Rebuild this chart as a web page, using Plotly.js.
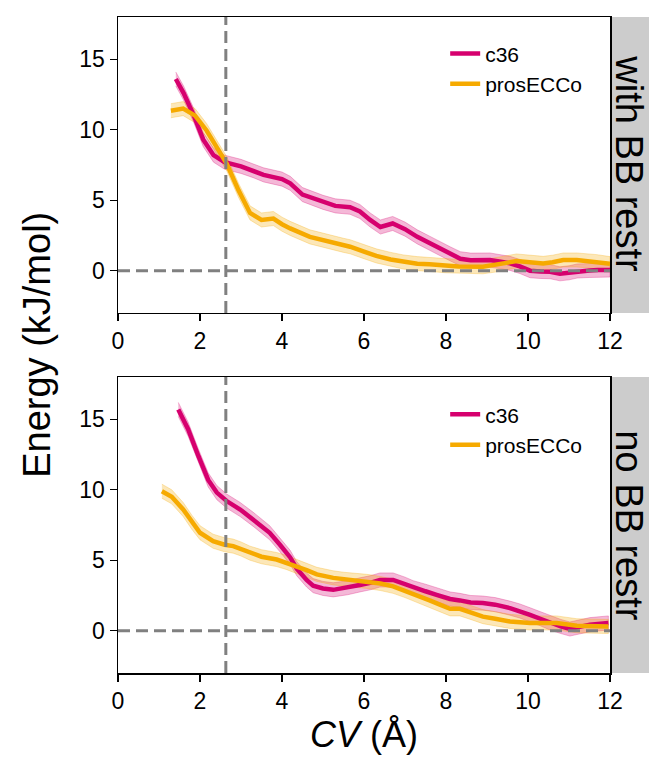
<!DOCTYPE html>
<html>
<head>
<meta charset="utf-8">
<script src="https://cdn.plot.ly/plotly-3.0.1.min.js"></script>
<style>html,body{margin:0;padding:0;background:#fff;}#chart{width:649px;height:764px;}</style>
</head>
<body>
<div id="chart"></div>
<script>
// ---- data ----
const seriesNames = ["c36", "prosECCo"];
const panelLabels = ["with BB restr", "no BB restr"];
const xTickVals = [0, 2, 4, 6, 8, 10, 12];
const yTickVals = [0, 5, 10, 15];
const refLineX = 2.63;
const refLineY = 0;

// top panel: with BB restraint
const topC36X = [1.41,1.6,1.85,2.08,2.33,2.6,3.0,3.3,3.55,4.0,4.2,4.5,5.0,5.3,5.66,5.9,6.15,6.4,6.7,7.0,7.3,7.6,7.85,8.1,8.35,8.6,9.07,9.3,9.56,9.8,10.05,10.3,10.54,10.78,11.0,11.2,11.5,11.7,12.0];
const topC36Y = [13.6,12.6,11.0,9.3,8.2,7.7,7.4,7.1,6.8,6.5,6.2,5.4,4.85,4.6,4.5,4.2,3.6,3.1,3.35,2.95,2.4,1.95,1.55,1.2,0.85,0.75,0.76,0.65,0.52,0.3,0.0,-0.05,-0.07,-0.22,-0.15,-0.02,0.02,0.05,0.05];
const topProsX = [1.29,1.59,1.88,2.16,2.41,2.65,2.94,3.22,3.5,3.79,4.0,4.2,4.68,5.0,5.5,5.66,6.0,6.3,6.65,6.96,7.3,7.6,8.0,8.3,8.9,9.2,9.4,9.72,10.0,10.37,10.6,10.86,11.19,11.68,12.0];
const topProsY = [11.35,11.5,11.0,9.95,8.75,7.6,5.7,4.1,3.6,3.7,3.3,3.0,2.4,2.15,1.8,1.7,1.35,1.05,0.8,0.62,0.5,0.45,0.35,0.3,0.28,0.4,0.52,0.69,0.6,0.52,0.6,0.76,0.76,0.64,0.5];

// bottom panel: no BB restraint
const botC36X = [1.47,1.71,1.96,2.2,2.41,2.65,2.98,3.3,3.7,3.95,4.2,4.36,4.6,4.76,5.0,5.25,5.6,5.9,6.15,6.39,6.71,7.0,7.2,7.5,7.77,8.1,8.34,8.6,8.9,9.2,9.56,9.8,10.05,10.3,10.54,10.8,11.02,11.3,11.51,11.96];
const botC36Y = [15.7,14.3,12.4,10.7,9.8,9.2,8.6,7.9,6.95,6.1,5.2,4.4,3.6,3.2,3.0,2.9,3.05,3.25,3.4,3.6,3.6,3.3,3.05,2.8,2.55,2.25,2.15,2.0,1.96,1.85,1.6,1.4,1.13,0.85,0.55,0.3,0.12,0.3,0.43,0.55];
const botProsX = [1.07,1.31,1.59,1.8,2.0,2.32,2.6,2.81,3.0,3.22,3.5,3.87,4.1,4.36,4.6,4.85,5.25,5.5,6.07,6.4,6.71,7.0,7.37,7.6,7.85,8.1,8.34,8.6,8.9,9.2,9.56,10.05,10.7,11.19,11.68,11.96];
const botProsY = [9.9,9.5,8.6,7.7,6.95,6.35,6.1,6.0,5.8,5.5,5.25,5.05,4.85,4.55,4.3,4.0,3.75,3.65,3.5,3.35,3.15,2.85,2.45,2.15,1.85,1.55,1.55,1.3,1.0,0.85,0.66,0.55,0.55,0.35,0.3,0.3];

// uncertainty half-widths (kJ/mol)
const bandTopC36 = 0.5, bandTopPros = 0.5, bandBotC36 = 0.5, bandBotPros = 0.5;

// ---- styling ----
const colC36 = "rgb(214,0,110)";
const colPros = "rgb(246,170,0)";
const fillC36 = "rgba(214,0,110,0.28)";
const fillPros = "rgba(246,170,0,0.28)";
const FONT = "Liberation Sans, Arial, sans-serif";

function band(x, y, h, fill, xa, ya) {
  const bx = x.concat(x.slice().reverse());
  const by = y.map(v => v + h).concat(y.slice().reverse().map(v => v - h));
  return {x: bx, y: by, xaxis: xa, yaxis: ya, type: "scatter", mode: "lines",
          fill: "toself", fillcolor: fill, line: {color: fill, width: 1},
          hoverinfo: "skip", showlegend: false};
}
function line(x, y, name, color, xa, ya, leg) {
  return {x: x, y: y, xaxis: xa, yaxis: ya, type: "scatter", mode: "lines", name: name,
          line: {color: color, width: 4.5}, legend: leg};
}

const data = [
  band(topC36X, topC36Y, bandTopC36, fillC36, "x", "y"),
  band(topProsX, topProsY, bandTopPros, fillPros, "x", "y"),
  line(topC36X, topC36Y, seriesNames[0], colC36, "x", "y", "legend"),
  line(topProsX, topProsY, seriesNames[1], colPros, "x", "y", "legend"),
  band(botC36X, botC36Y, bandBotC36, fillC36, "x2", "y2"),
  band(botProsX, botProsY, bandBotPros, fillPros, "x2", "y2"),
  line(botC36X, botC36Y, seriesNames[0], colC36, "x2", "y2", "legend2"),
  line(botProsX, botProsY, seriesNames[1], colPros, "x2", "y2", "legend2")
];

const axisCommon = {
  range: [0, 12], tickvals: xTickVals, ticktext: xTickVals.map(String),
  showline: true, mirror: true, linecolor: "black", linewidth: 1.5,
  ticks: "outside", ticklen: 7, tickwidth: 1.3, tickcolor: "black",
  showgrid: false, zeroline: false,
  tickfont: {family: FONT, size: 23, color: "black"}
};
const yCommon = Object.assign({}, axisCommon, {range: [-3, 18], tickvals: yTickVals, ticktext: yTickVals.map(String)});

const dash = {color: "rgb(128,128,128)", width: 3, dash: "12px,6px"};
const shapes = [
  {type: "rect", xref: "paper", yref: "paper", x0: 1.003, x1: 1.1, y0: 0.5488, y1: 1, fillcolor: "rgb(204,204,204)", line: {width: 0}, layer: "below"},
  {type: "rect", xref: "paper", yref: "paper", x0: 1.003, x1: 1.1, y0: 0, y1: 0.4512, fillcolor: "rgb(204,204,204)", line: {width: 0}, layer: "below"},
  {type: "line", xref: "x", yref: "y", x0: 0, x1: 12, y0: refLineY, y1: refLineY, line: dash, layer: "above"},
  {type: "line", xref: "x", yref: "y", x0: refLineX, x1: refLineX, y0: -3, y1: 18, line: dash, layer: "above"},
  {type: "line", xref: "x2", yref: "y2", x0: 0, x1: 12, y0: refLineY, y1: refLineY, line: dash, layer: "above"},
  {type: "line", xref: "x2", yref: "y2", x0: refLineX, x1: refLineX, y0: -3, y1: 18, line: dash, layer: "above"}
];

const legendCommon = {bgcolor: "rgba(0,0,0,0)", font: {family: FONT, size: 21, color: "black"},
                      xanchor: "left", yanchor: "top", tracegroupgap: 0};

const layout = {
  width: 649, height: 764,
  margin: {l: 118, r: 39, t: 17, b: 91},
  paper_bgcolor: "white", plot_bgcolor: "white",
  showlegend: true,
  xaxis: Object.assign({}, axisCommon, {anchor: "y"}),
  yaxis: Object.assign({}, yCommon, {anchor: "x", domain: [0.5488, 1]}),
  xaxis2: Object.assign({}, axisCommon, {anchor: "y2",
          title: {text: "<i>CV</i> (Å)", font: {family: FONT, size: 36, color: "black"}, standoff: 8}}),
  yaxis2: Object.assign({}, yCommon, {anchor: "x2", domain: [0, 0.4512]}),
  legend: Object.assign({}, legendCommon, {x: 0.665, y: 0.975}),
  legend2: Object.assign({}, legendCommon, {x: 0.665, y: 0.425}),
  shapes: shapes,
  annotations: [
    {text: "Energy (kJ/mol)", xref: "paper", yref: "paper", x: -0.165, y: 0.5, showarrow: false,
     textangle: -90, font: {family: FONT, size: 38, color: "black"}, xanchor: "center", yanchor: "middle"},
    {text: panelLabels[0], xref: "paper", yref: "paper", x: 1.038, y: 0.776, showarrow: false,
     textangle: 90, font: {family: FONT, size: 38, color: "black"}, xanchor: "center", yanchor: "middle"},
    {text: panelLabels[1], xref: "paper", yref: "paper", x: 1.038, y: 0.2256, showarrow: false,
     textangle: 90, font: {family: FONT, size: 38, color: "black"}, xanchor: "center", yanchor: "middle"}
  ]
};

Plotly.newPlot("chart", data, layout, {displayModeBar: false, staticPlot: true});
</script>
</body>
</html>
